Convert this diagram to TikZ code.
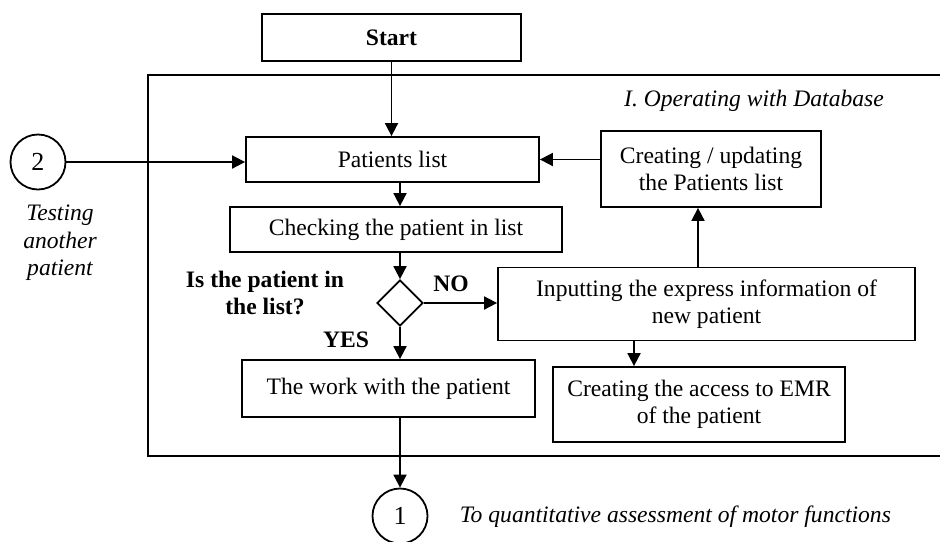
\documentclass[tikz,border=0pt]{standalone}
\usepackage{fontspec}
\setmainfont{Liberation Serif}
\usetikzlibrary{shapes.geometric,arrows.meta,positioning}
\tikzset{
    block/.style={draw, rectangle, align=center, inner sep=0pt},
    connector/.style={circle, draw, inner sep=0pt, minimum size=27.5pt, font=\fontsize{13}{15}\selectfont},
    decision/.style={diamond, draw, inner sep=0pt, minimum width=23pt, minimum height=23pt},
    flow/.style={-{Triangle[length=6.5pt,width=6.5pt]}},
    note/.style={align=center, font=\itshape},
    answer/.style={align=center, font=\bfseries}
}
\begin{document}
\begin{tikzpicture}[x=0.5pt, y=-0.5pt, line width=0.9pt]
    \fontsize{11.8}{13.8}\selectfont
    \useasboundingbox (0,0) rectangle (940,541);

    % frame of part I
    \draw (940,75) -- (148,75) -- (148,456) -- (940,456);
    \node[note] (part) at (754,101) {I. Operating with Database};

    \node[block, font=\bfseries, minimum width=129.5pt, minimum height=23.5pt] (start) at (391.5,37.5) {Start};
    \node[block, minimum width=146.5pt, minimum height=22.5pt] (list) at (392.5,159.5) {Patients list};
    \node[block, minimum width=166pt, minimum height=22.5pt] (check) at (396,229.5) {Checking the patient in list};
    \node[decision] (dec) at (400,303) {};
    \node[block, minimum width=146.5pt, minimum height=28.5pt] (work) at (388.5,388.5) {The work with the patient};
    \node[block, minimum width=110pt, minimum height=38pt] (update) at (711,169) {Creating / updating\\the Patients list};
    \node[block, minimum width=208.5pt, minimum height=36.5pt] (input) at (706.5,304) {Inputting the express information of\\new patient};
    \node[block, minimum width=146pt, minimum height=37.5pt] (access) at (699,404.5) {Creating the access to EMR\\of the patient};

    \node[connector] (two) at (38,162) {2};
    \node[note] (testing) at (60,243) {Testing\\another\\patient};
    \node[connector] (one) at (400,516) {1};
    \node[note, anchor=west] (goal) at (451,517) {To quantitative assessment of motor functions};

    \node[answer] (question) at (265,293) {Is the patient in\\the list?};
    \node[answer] (no) at (451,284) {NO};
    \node[answer] (yes) at (346,340) {YES};

    \draw[flow] (start.south) -- (start.south |- list.north);
    \draw[flow] (two.east) -- (two.east -| list.west);
    \draw[flow] (dec.north |- list.south) -- (dec.north |- check.north);
    \draw[flow] (dec.north |- check.south) -- (dec.north);
    \draw[flow] (dec.east) -- (dec.east -| input.west);
    \draw[flow] (dec.south) -- (dec.south |- work.north);
    \draw[flow] (dec.south |- work.south) -- (one.north);
    \draw[flow] ([xshift=-4.25pt]input.north) -- ([xshift=-4.25pt]input.north |- update.south);
    \draw[flow] (update.west |- list.east) -- (list.east);
    \draw[flow] ([xshift=-36.25pt]input.south) -- ([xshift=-36.25pt]input.south |- access.north);
\end{tikzpicture}
\end{document}
